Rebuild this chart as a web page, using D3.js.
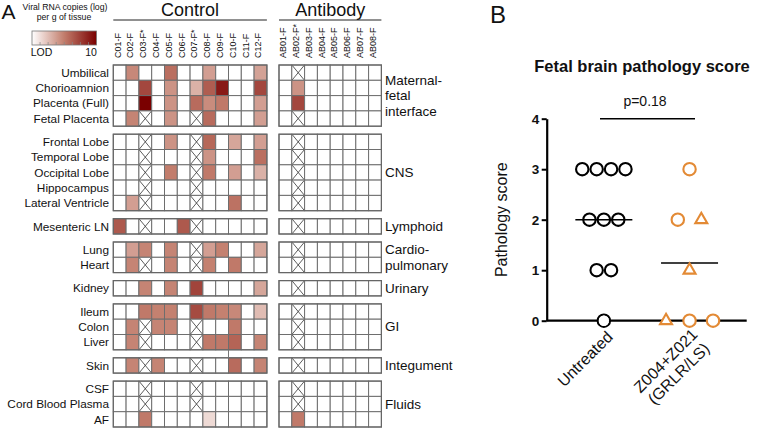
<!DOCTYPE html>
<html><head><meta charset="utf-8">
<script src="https://cdn.jsdelivr.net/npm/d3@7"></script>
<style>
body{margin:0;background:#fff}
svg{display:block}
text{font-family:"Liberation Sans",Arial,Helvetica,sans-serif;fill:#111}
</style>
</head><body>
<svg id="chart" width="763" height="430"></svg>
<script>
// ---------------- DATA ----------------
const groupLabelLines = [["Maternal-","fetal","interface"],["CNS"],["Lymphoid"],["Cardio-","pulmonary"],["Urinary"],["GI"],["Integument"],["Fluids"]];
const tissues = ["Umbilical","Chorioamnion","Placenta (Full)","Fetal Placenta",
  "Frontal Lobe","Temporal Lobe","Occipital Lobe","Hippocampus","Lateral Ventricle",
  "Mesenteric LN","Lung","Heart","Kidney","Ileum","Colon","Liver","Skin",
  "CSF","Cord Blood Plasma","AF"];
const tissueGroup = [0,0,0,0,1,1,1,1,1,2,3,3,4,5,5,5,6,7,7,7];
const controlAnimals = ["C01-F","C02-F","C03-F*","C04-F","C05-F","C06-F","C07-F*","C08-F","C09-F","C10-F","C11-F","C12-F"];
const antibodyAnimals = ["AB01-F","AB02-F*","AB03-F","AB04-F","AB05-F","AB06-F","AB07-F","AB08-F"];
// log10 viral RNA copies per g; 0 = below LOD; null = not tested (X)
const controlValues = [
  [0,6.2,0,0,6.9,0,0,5.6,0,0,0,5.5],
  [0,0,8.0,0,5.9,0,5.1,7.4,9.3,0,0,8.0],
  [0,0,10,0,5.9,0,7.0,6.1,6.6,0,0,5.6],
  [0,6.3,null,0,5.9,0,null,7.0,0,0,0,5.6],
  [0,0,null,0,5.9,0,null,7.1,0,5.4,0,5.6],
  [0,0,null,0,0,0,null,5.9,0,0,0,6.9],
  [0,0,null,0,6.5,0,null,6.6,0,5.6,0,5.1],
  [0,0,null,0,0,0,null,0,0,0,0,0],
  [0,5.6,null,0,0,0,null,0,0,6.8,0,0],
  [7.5,0,null,0,0,7.5,null,0,0,0,0,0],
  [0,5.6,6.3,0,6.3,0,null,5.6,6.4,0,0,5.4],
  [0,6.3,null,0,6.3,0,null,6.4,0,6.6,0,0],
  [0,0,6.3,0,6.3,0,8.1,0,0,0,0,5.4],
  [0,0,6.6,6.4,6.4,0,7.9,6.6,6.4,6.2,0,4.8],
  [0,6.3,null,6.3,6.3,0,null,0,0,6.6,0,0],
  [0,6.3,null,0,0,0,null,6.6,6.6,7.2,0,6.3],
  [0,6.3,null,6.3,0,0,null,0,0,7.0,0,6.3],
  [0,0,null,0,0,0,null,0,0,0,0,0],
  [0,0,null,0,0,0,null,0,0,0,0,0],
  [0,0,6.6,0,0,0,0,4.0,0,0,0,0]
];
const antibodyValues = [
  [0,null,0,0,0,0,0,0],
  [0,5.9,0,0,0,0,0,0],
  [0,8.0,0,0,0,0,0,0],
  [0,null,0,0,0,0,0,0],
  [0,null,0,0,0,0,0,0],
  [0,null,0,0,0,0,0,0],
  [0,null,0,0,0,0,0,0],
  [0,null,0,0,0,0,0,0],
  [0,null,0,0,0,0,0,0],
  [0,null,0,0,0,0,0,0],
  [0,null,0,0,0,0,0,0],
  [0,null,0,0,0,0,0,0],
  [0,null,0,0,0,0,0,0],
  [0,null,0,0,0,0,0,0],
  [0,null,0,0,0,0,0,0],
  [0,null,0,0,0,0,0,0],
  [0,null,0,0,0,0,0,0],
  [0,null,0,0,0,0,0,0],
  [0,null,0,0,0,0,0,0],
  [0,6.6,0,0,0,0,0,0]
];
const legendLabels = ["LOD","10"];
const panelTitles = ["Control","Antibody"];

const treatmentGroups = ["Untreated","Z004+Z021|(GRLR/LS)"];
const untreatedScores = [3,3,3,3,2,2,2,1,1,0];
const treatedScores = [3,2,2,1,0,0,0];
const treatedShapes = ["circle","circle","triangle","triangle","triangle","circle","circle"];
const scoreTicks = [0,1,2,3,4];
const pValueText = "p=0.18";

// ---------------- LAYOUT ----------------
const svg = d3.select("#chart");
const LOD = 3;
const color = d3.scaleLinear().domain([LOD, 6.5, 10]).range(["#ffffff","#c27d6c","#7a0000"]).clamp(true);
const colW = 12.8, rowH = 15.3, gap = 8, gridTop = 65;
const rowTop = i => gridTop + i*rowH + tissueGroup[i]*gap;

// Panel label A and legend
svg.append("text").attr("x",1.5).attr("y",19).attr("font-size",21).text("A");
svg.append("text").attr("x",65).attr("y",9.5).attr("text-anchor","middle").attr("font-size",8.7).text("Viral RNA copies (log)");
svg.append("text").attr("x",64).attr("y",19.5).attr("text-anchor","middle").attr("font-size",8.7).text("per g of tissue");
const defs = svg.append("defs");
const grad = defs.append("linearGradient").attr("id","lg");
d3.range(0,1.0001,0.1).forEach(t=>{
  grad.append("stop").attr("offset",t).attr("stop-color",color(LOD + t*(10-LOD)));
});
const lgX = d3.scaleLinear().domain([LOD,10]).range([32,96.5]);
svg.append("rect").attr("x",lgX(LOD)).attr("y",31).attr("width",lgX(10)-lgX(LOD)).attr("height",14)
  .attr("fill","url(#lg)").attr("stroke","#777").attr("stroke-width",0.8);
d3.range(1,8).forEach(k=>{
  const xx = lgX(LOD + k*(10-LOD)/8);
  svg.append("line").attr("x1",xx).attr("x2",xx).attr("y1",42).attr("y2",45).attr("stroke","#888").attr("stroke-width",0.7);
});
svg.append("text").attr("x",41.5).attr("y",56).attr("text-anchor","middle").attr("font-size",10.5).text(legendLabels[0]);
svg.append("text").attr("x",91).attr("y",56).attr("text-anchor","middle").attr("font-size",10.5).text(legendLabels[1]);

// Heatmap panels
function drawPanel(cols, values, x0, title){
  const x = d3.scaleBand().domain(cols).range([x0, x0 + cols.length*colW]);
  const g = svg.append("g");
  const [xa, xb] = x.range();
  g.append("text").attr("x",(xa+xb)/2).attr("y",15.5).attr("text-anchor","middle").attr("font-size",18).text(title);
  g.append("line").attr("x1",xa).attr("x2",xb).attr("y1",20).attr("y2",20).attr("stroke","#222").attr("stroke-width",1);
  cols.forEach(c=>{
    g.append("text").attr("transform",`translate(${x(c)+colW/2+0.8},58) rotate(-90)`)
      .attr("font-size",9).text(c);
  });
  values.forEach((row,i)=>{
    row.forEach((v,j)=>{
      const cx = x(cols[j]), cy = rowTop(i);
      g.append("rect").attr("x",cx).attr("y",cy).attr("width",colW).attr("height",rowH)
        .attr("fill", v===null ? "#fff" : color(v)).attr("stroke","#6e6e6e").attr("stroke-width",1);
      if(v===null){
        g.append("path").attr("d",`M${cx+0.5},${cy+0.5}L${cx+colW-0.5},${cy+rowH-0.5}M${cx+colW-0.5},${cy+0.5}L${cx+0.5},${cy+rowH-0.5}`)
          .attr("stroke","#333").attr("stroke-width",0.8).attr("fill","none");
      }
    });
  });
  // group outlines
  d3.range(groupLabelLines.length).forEach(gi=>{
    const idx = tissueGroup.map((t,i)=>t===gi?i:-1).filter(i=>i>=0);
    const top = rowTop(idx[0]), bot = rowTop(idx[idx.length-1]) + rowH;
    g.append("rect").attr("x",xa).attr("y",top).attr("width",xb-xa).attr("height",bot-top)
      .attr("fill","none").attr("stroke","#666").attr("stroke-width",1.2);
  });
  return x;
}
const xc = drawPanel(controlAnimals, controlValues, 113.3, panelTitles[0]);
drawPanel(antibodyAnimals, antibodyValues, 279, panelTitles[1]);

// small connector artifact between GI and Skin blocks
svg.append("line").attr("x1",xc("C10-F")).attr("x2",xc("C10-F"))
  .attr("y1",rowTop(15)+rowH).attr("y2",rowTop(16)).attr("stroke","#777").attr("stroke-width",1);

// Row labels
tissues.forEach((t,i)=>{
  svg.append("text").attr("x",109).attr("y",rowTop(i)+rowH/2+4.2).attr("text-anchor","end")
    .attr("font-size",11.8).text(t);
});
// Group labels
groupLabelLines.forEach((lines,gi)=>{
  const idx = tissueGroup.map((t,i)=>t===gi?i:-1).filter(i=>i>=0);
  const mid = (rowTop(idx[0]) + rowTop(idx[idx.length-1]) + rowH)/2;
  const lh = 15.5;
  lines.forEach((ln,k)=>{
    svg.append("text").attr("x",385).attr("y",mid + (k-(lines.length-1)/2)*lh + 4.6)
      .attr("font-size",13.5).text(ln);
  });
});

// ---------------- PANEL B ----------------
svg.append("text").attr("x",490).attr("y",23).attr("font-size",24).text("B");
svg.append("text").attr("x",642).attr("y",72).attr("text-anchor","middle").attr("font-size",16.5)
  .attr("font-weight","bold").text("Fetal brain pathology score");

const y = d3.scaleLinear().domain([0,4]).range([320.7,118.7]);
const xg = d3.scalePoint().domain(treatmentGroups).range([546.7,746.7]).padding(0.667);
const orange = "#e38a35";

const yAxis = svg.append("g").attr("transform","translate(546.7,0)")
  .call(d3.axisLeft(y).tickValues(scoreTicks).tickFormat(d3.format("d")).tickSize(5).tickSizeOuter(0));
yAxis.select(".domain").attr("stroke","#000").attr("stroke-width",2.2);
yAxis.selectAll(".tick line").attr("stroke","#000").attr("stroke-width",2);
yAxis.selectAll(".tick text").attr("font-size",13.5).attr("font-weight","bold").attr("fill","#000")
  .attr("font-family","Liberation Sans, Arial, sans-serif").attr("x",-7.5);
svg.append("line").attr("x1",546.7).attr("x2",746.7).attr("y1",y(0)).attr("y2",y(0))
  .attr("stroke","#000").attr("stroke-width",2.2);

svg.append("text").attr("transform",`translate(507,${y(2)}) rotate(-90)`).attr("text-anchor","middle")
  .attr("font-size",16).text("Pathology score");

// beeswarm positions
function swarm(scores, spacing, center){
  const counts = d3.rollup(scores, v=>v.length, d=>d);
  const seen = new Map();
  return scores.map(s=>{
    const j = seen.get(s)||0; seen.set(s,j+1);
    const k = counts.get(s);
    return {x: center + (j-(k-1)/2)*spacing, y: y(s), s};
  });
}
const uPts = swarm(untreatedScores, 14.4, xg(treatmentGroups[0]));
const tPts = swarm(treatedScores, 23.5, xg(treatmentGroups[1]));

// means
[[untreatedScores, treatmentGroups[0]],[treatedScores, treatmentGroups[1]]].forEach(([sc,gname])=>{
  const m = d3.mean(sc);
  svg.append("line").attr("x1",xg(gname)-28.5).attr("x2",xg(gname)+28.5).attr("y1",y(m)).attr("y2",y(m))
    .attr("stroke","#000").attr("stroke-width",1.6);
});

svg.selectAll(".u").data(uPts).enter().append("circle")
  .attr("cx",d=>d.x).attr("cy",d=>d.y).attr("r",6.2)
  .attr("fill","none").attr("stroke","#000").attr("stroke-width",2.1);
uPts.filter(d=>d.s===0).forEach(d=>{
  svg.append("circle").attr("cx",d.x).attr("cy",d.y).attr("r",5.2).attr("fill","#fff");
});
tPts.forEach((d,i)=>{
  if(treatedShapes[i]==="circle"){
    svg.append("circle").attr("cx",d.x).attr("cy",d.y).attr("r",6.2)
      .attr("fill","#fff").attr("stroke",orange).attr("stroke-width",2.1);
  } else {
    svg.append("path").attr("transform",`translate(${d.x},${d.y})`)
      .attr("d",d3.symbol(d3.symbolTriangle,62)())
      .attr("fill","#fff").attr("stroke",orange).attr("stroke-width",2.1);
  }
});

// significance bar
svg.append("line").attr("x1",600).attr("x2",695).attr("y1",y(4)).attr("y2",y(4))
  .attr("stroke","#000").attr("stroke-width",1.6);
svg.append("text").attr("x",645).attr("y",106).attr("text-anchor","middle").attr("font-size",14).text(pValueText);

// x labels
treatmentGroups.forEach(gname=>{
  const lines = gname.split("|");
  const t = svg.append("text").attr("transform",`translate(${xg(gname)+6},334) rotate(-45)`)
    .attr("text-anchor", lines.length>1 ? "middle":"end").attr("font-size",16);
  lines.forEach((ln,k)=>{
    t.append("tspan").attr("x", lines.length>1 ? -40 : 0).attr("dy", k===0 ? (lines.length>1? "0.2em":"0.35em") : "1.15em").text(ln);
  });
});
</script>
</body></html>
